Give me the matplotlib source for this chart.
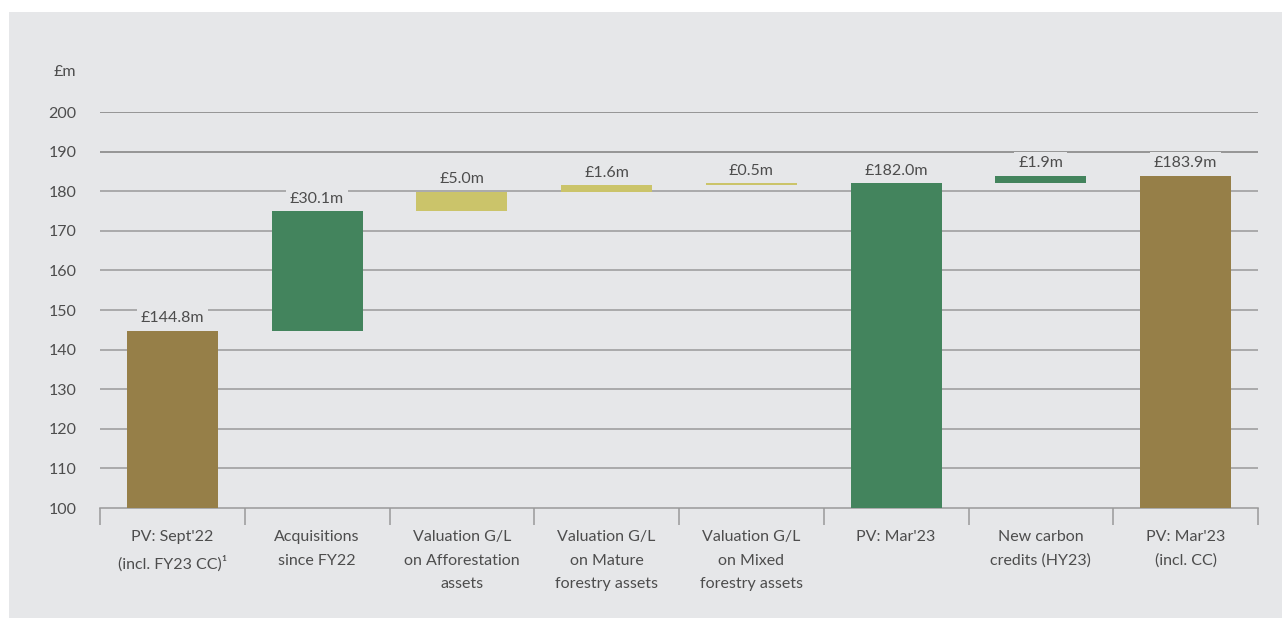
import matplotlib
matplotlib.use("Agg")
import matplotlib.pyplot as plt
from matplotlib.patches import Rectangle
import numpy as np

categories = ["PV: Sept'22\n(incl. FY23 CC)\u00b9", "Acquisitions\nsince FY22",
              "Valuation G/L\non Afforestation\nassets", "Valuation G/L\non Mature\nforestry assets",
              "Valuation G/L\non Mixed\nforestry assets", "PV: Mar'23",
              "New carbon\ncredits (HY23)", "PV: Mar'23\n(incl. CC)"]
bar_bottoms = [100, 144.8, 174.9, 179.9, 181.5, 100, 182.0, 100]
bar_tops = [144.8, 174.9, 179.9, 181.5, 182.0, 182.0, 183.9, 183.9]
labels = ["£144.8m", "£30.1m", "£5.0m", "£1.6m", "£0.5m", "£182.0m", "£1.9m", "£183.9m"]
kinds = ["total", "green", "yellow", "yellow", "yellow", "green", "green", "total"]
yticks = list(range(100, 201, 10))

colors = {"total": "#967f48", "green": "#43845d", "yellow": "#cbc46a"}
bg = "#e6e7e9"
txt = "#4d4d4d"
grid = "#9a9a9a"

plt.rcParams['font.family'] = ['Lato', 'DejaVu Sans']

fig = plt.figure(figsize=(12.82, 6.18), dpi=100)
fig.patch.set_facecolor("white")
fig.patches.append(Rectangle((9/1282, 0), 1 - 9/1282, 1 - 12/618, transform=fig.transFigure,
                             facecolor=bg, edgecolor="none", zorder=-10))

ax = fig.add_axes([100/1282, 110/618, 1158/1282, 396/618])
ax.set_facecolor(bg)
ax.patch.set_alpha(0)

x = np.arange(len(categories))
heights = [t - b for t, b in zip(bar_tops, bar_bottoms)]
ax.bar(x, heights, bottom=bar_bottoms, width=0.63,
       color=[colors[k] for k in kinds], zorder=3)

for xi, top, lab in zip(x, bar_tops, labels):
    ax.annotate(lab, (xi, top), xytext=(0, 4), textcoords="offset points",
                ha="center", va="bottom", fontsize=11.5, color=txt, zorder=4,
                bbox=dict(boxstyle="square,pad=0.25", facecolor=bg, edgecolor="none"))

ax.set_xlim(-0.5, len(categories) - 0.5)
ax.set_ylim(100, 200)
ax.set_yticks(yticks)
ax.tick_params(axis="y", length=0, pad=17, labelsize=11.5, labelcolor=txt)
for yv in yticks[1:]:
    ax.axhline(yv, color="#8f8f8f" if yv >= 190 else grid, lw=1.3 if yv >= 190 else 1.1, zorder=1)

ax.set_xticks(np.arange(-0.5, len(categories), 1.0))
ax.set_xticklabels([])
ax.tick_params(axis="x", which="major", length=12, width=1.1, color=grid, direction="out")
ax.set_xticks(x, minor=True)
ax.set_xticklabels(categories, minor=True, fontsize=11.5, color=txt, linespacing=1.85)
ax.tick_params(axis="x", which="minor", length=0, pad=16)

for s in ["top", "right", "left"]:
    ax.spines[s].set_visible(False)
ax.spines["bottom"].set_color(grid)
ax.spines["bottom"].set_linewidth(1.1)

ax.text(-0.5 - 24/144.75, 210, "£m", ha="right", va="center",
        fontsize=11.5, color=txt, clip_on=False)

fig.savefig("out.png", dpi=100, facecolor=fig.get_facecolor())
